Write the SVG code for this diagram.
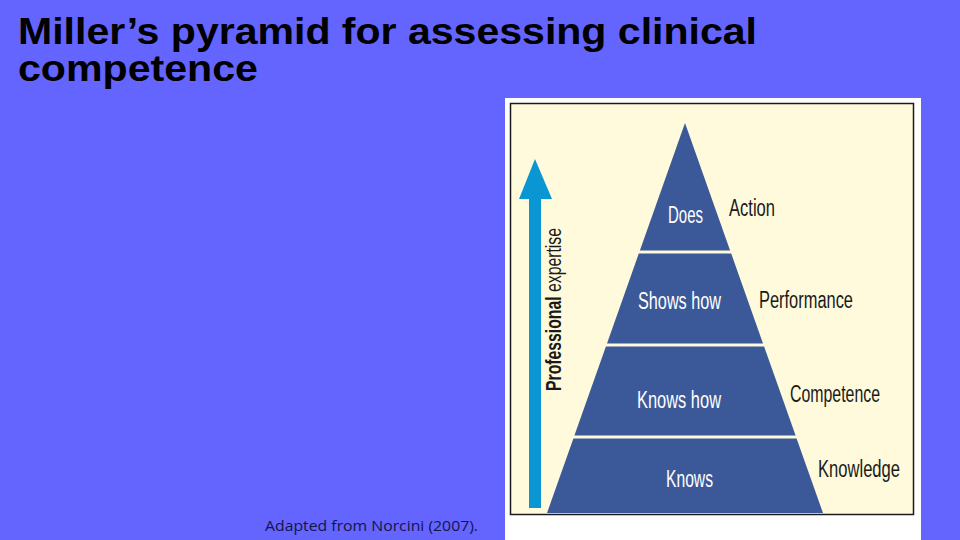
<svg xmlns="http://www.w3.org/2000/svg" width="960" height="540" viewBox="0 0 960 540">
<defs>
<style>
.title{font-family:"Liberation Sans",Arial,sans-serif;font-weight:bold;font-size:37px;fill:#000}
.tier{fill:#3b5998}
.tin{font-family:"Liberation Sans",Arial,sans-serif;font-size:23px;fill:#ffffff}
.lab{font-family:"Liberation Sans",Arial,sans-serif;font-size:23px;fill:#1a1a1a}
.foot{font-family:"Open Sans","Liberation Sans",sans-serif;font-size:15px;fill:#14144a}
</style>
</defs>
<rect x="0" y="0" width="960" height="540" fill="#6464ff"/>
<g id="title">
<text class="title" x="18" y="44" textLength="739" lengthAdjust="spacingAndGlyphs">Miller’s pyramid for assessing clinical</text>
<text class="title" x="18" y="81" textLength="240" lengthAdjust="spacingAndGlyphs">competence</text>
</g>
<g id="figure">
<rect x="505" y="98" width="416" height="442" fill="#ffffff"/>
<rect x="510.5" y="103.5" width="403" height="411" fill="#fffadc" stroke="#1a1a1a" stroke-width="1.5"/>
</g>
<g id="connectors">
<polygon points="529,508 541,508 541,199 552,199 535,159 519,199 529,199" fill="#0a96d2"/>
</g>
<g id="axis-label">
<text transform="translate(561,391) rotate(-90)" font-family="'Liberation Sans',Arial,sans-serif" font-size="22" fill="#1a1a1a" textLength="163" lengthAdjust="spacingAndGlyphs"><tspan font-weight="bold">Professional</tspan> expertise</text>
</g>
<g id="tier-does">
<polygon class="tier" points="685,123 730.1,250.5 639.9,250.5"/>
<text class="tin" x="668" y="223" textLength="35" lengthAdjust="spacingAndGlyphs">Does</text>
<text class="lab" x="729" y="216" textLength="46" lengthAdjust="spacingAndGlyphs">Action</text>
</g>
<g id="tier-shows-how">
<polygon class="tier" points="638.8,253.5 731.2,253.5 763,343.5 607,343.5"/>
<text class="tin" x="638" y="309" textLength="83" lengthAdjust="spacingAndGlyphs">Shows how</text>
<text class="lab" x="759" y="308" textLength="94" lengthAdjust="spacingAndGlyphs">Performance</text>
</g>
<g id="tier-knows-how">
<polygon class="tier" points="605.9,346.5 764.1,346.5 795.6,435.5 574.4,435.5"/>
<text class="tin" x="637" y="408" textLength="84" lengthAdjust="spacingAndGlyphs">Knows how</text>
<text class="lab" x="790" y="402" textLength="90" lengthAdjust="spacingAndGlyphs">Competence</text>
</g>
<g id="tier-knows">
<polygon class="tier" points="573.4,438.5 796.6,438.5 823,513 547,513"/>
<text class="tin" x="666" y="487" textLength="47" lengthAdjust="spacingAndGlyphs">Knows</text>
<text class="lab" x="818" y="477" textLength="82" lengthAdjust="spacingAndGlyphs">Knowledge</text>
</g>
<g id="footnote">
<text class="foot" x="265" y="531" textLength="213" lengthAdjust="spacingAndGlyphs">Adapted from Norcini (2007).</text>
</g>
</svg>
